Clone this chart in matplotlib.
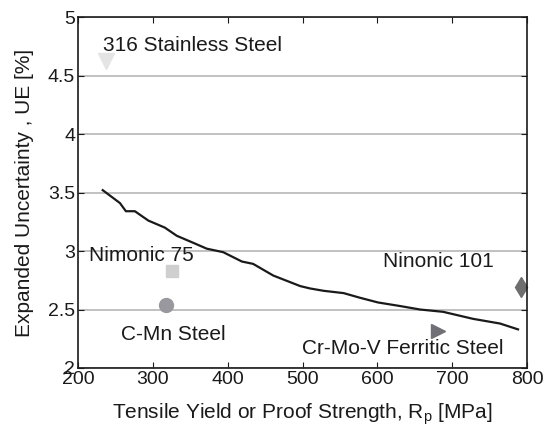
import matplotlib
matplotlib.use("Agg")
import matplotlib.pyplot as plt

plt.rcParams['font.family'] = ['Liberation Sans', 'DejaVu Sans']

# uncertainty curve
rp = [233, 256, 264, 276, 294, 316, 332, 354, 372, 394, 419, 434, 461, 497,
      510, 528, 555, 577, 601, 630, 657, 688, 728, 764, 788]
ue = [3.52, 3.41, 3.34, 3.34, 3.26, 3.20, 3.13, 3.07, 3.02, 2.99, 2.91, 2.89,
      2.79, 2.70, 2.68, 2.66, 2.64, 2.60, 2.56, 2.53, 2.50, 2.48, 2.42, 2.38,
      2.33]

# individual materials
materials = ['316 Stainless Steel', 'Nimonic 75', 'C-Mn Steel',
             'Cr-Mo-V Ferritic Steel', 'Ninonic 101']
mat_rp = [238, 326, 317, 681, 792]
mat_ue = [4.62, 2.83, 2.54, 2.32, 2.69]
markers = ['v', 's', 'o', '>', 'd']
sizes = [11, 8, 10, 10, 10.5]
colors = ['#e4e4e4', '#cfcfcf', '#98989e', '#707076', '#6e6e6e']
label_pos = [(233, 4.76), (215, 2.96), (257, 2.29), (499, 2.17), (608, 2.91)]

fig = plt.figure(figsize=(5.51, 4.40), dpi=100)
ax = fig.add_axes([78 / 551, 1 - 368 / 440, 449 / 551, 351 / 440])

ax.yaxis.grid(True, color='#b0b0b0', linewidth=1.1)
ax.set_axisbelow(True)

ax.plot(rp, ue, color='#1a1a1a', linewidth=1.6)

for name, x, y, m, s, c, (tx, ty) in zip(materials, mat_rp, mat_ue, markers,
                                          sizes, colors, label_pos):
    ax.plot(x, y, marker=m, markersize=s, color=c, linestyle='none',
            clip_on=False)
    ax.text(tx, ty, name, fontsize=15, ha='left', va='center', color='#1a1a1a')

ax.set_xlim(200, 800)
ax.set_ylim(2, 5)
ax.set_xticks(range(200, 801, 100))
ax.set_yticks([2, 2.5, 3, 3.5, 4, 4.5, 5])
ax.set_yticklabels(['2', '2.5', '3', '3.5', '4', '4.5', '5'])
ax.tick_params(direction='in', top=True, right=True, labelsize=14,
               length=4, colors='#1a1a1a', pad=2)
for sp in ax.spines.values():
    sp.set_color('#1a1a1a')
    sp.set_linewidth(1.2)

ax.set_xlabel('Tensile Yield or Proof Strength, R$_\\mathregular{p}$ [MPa]',
              fontsize=15, labelpad=10, color='#1a1a1a')
ax.set_ylabel('Expanded Uncertainty , UE [%]', fontsize=15, labelpad=10,
              color='#1a1a1a')

fig.savefig('out.png', dpi=100)
